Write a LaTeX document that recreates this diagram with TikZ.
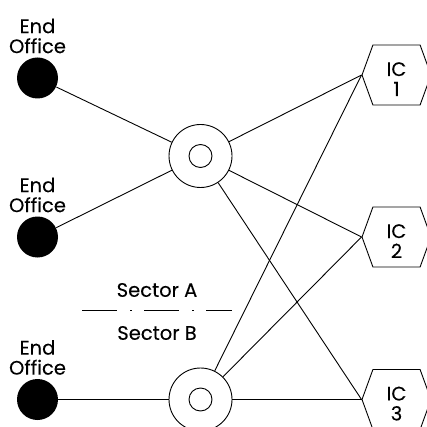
\documentclass[tikz,border=0pt]{standalone}
\usepackage{fontspec}
\setmainfont{Poppins}[FakeBold=0.12]
\usepackage{tikz}
\usetikzlibrary{positioning,shapes.symbols}

\newcommand{\icstrut}{\rule{0pt}{22pt}}

\begin{document}
\begin{tikzpicture}[
    x=1pt,
    y=-1pt,
    line width=0.9pt,
    font=\fontsize{19.5}{20}\selectfont
]

\tikzstyle{office}=[
    circle,
    fill=black,
    minimum size=41pt,
    inner sep=0pt,
    label distance=5pt
]

\tikzstyle{tandem}=[
    circle,
    draw,
    minimum size=63pt,
    inner sep=0pt,
    path picture={\draw (path picture bounding box.center) circle (11.5pt);}
]

\tikzstyle{carrier}=[
    signal,
    signal to=west and east,
    signal pointer angle=140,
    draw,
    minimum width=69pt,
    minimum height=60pt,
    inner sep=0pt,
    align=center
]

\useasboundingbox (0,0) rectangle (427,427);

% end offices
\node[office, label={[align=center]above:End\\Office}] (eo1) at (37.5,78) {};
\node[office, label={[align=center]above:End\\Office}] (eo2) at (37.5,237) {};
\node[office, label={[align=center]above:End\\Office}] (eo3) at (37.5,399.5) {};

% tandems
\node[tandem] (ta) at (200.5,156) {};
\node[tandem] (tb) at (200.5,399.5) {};

% interexchange carriers
\node[carrier] (ic1) at (396.5,75) {\icstrut IC\\1};
\node[carrier] (ic2) at (396.5,237) {\icstrut IC\\2};
\node[carrier] (ic3) at (396.5,399.5) {\icstrut IC\\3};

\draw (eo1) -- (ta);
\draw (eo2) -- (ta);
\draw (eo3) -- (tb);

\draw (ta) -- (ic1.west);
\draw (ta) -- (ic2.west);
\draw (ta) -- (ic3.west);
\draw (tb) -- (ic1.west);
\draw (tb) -- (ic2.west);
\draw (tb) -- (ic3.west);

% sector boundary
\coordinate (sl) at (82,310);
\coordinate (sr) at (232,310);
\draw[dash pattern=on 35pt off 13pt on 2pt off 12pt] (sl) -- (sr);
\node (seca) at (157,290) {Sector A};
\node (secb) at (157,333) {Sector B};

\end{tikzpicture}
\end{document}
